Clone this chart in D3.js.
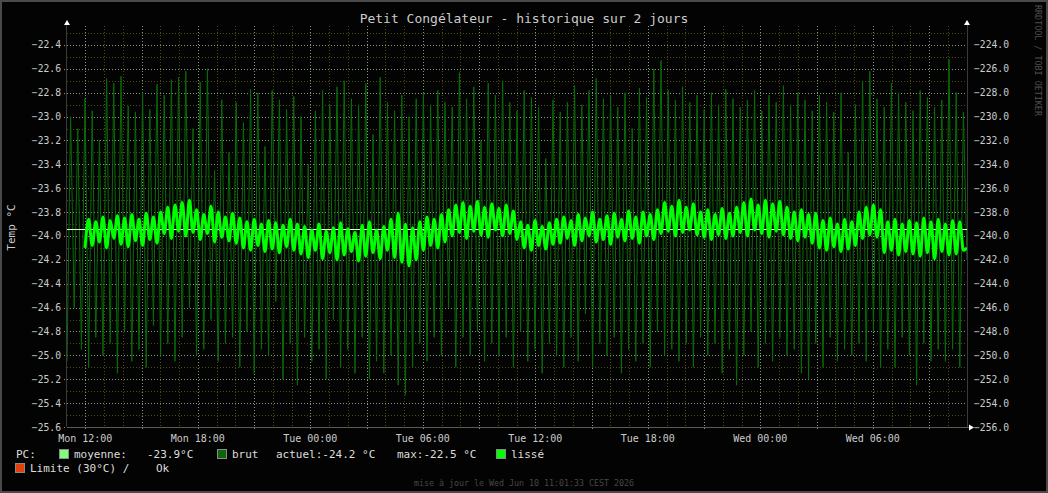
<!DOCTYPE html>
<html>
<head>
<meta charset="utf-8">
<script src="https://cdnjs.cloudflare.com/ajax/libs/d3/7.8.5/d3.min.js"></script>
<style>
body { margin: 0; background: #000; }
svg text { font-family: "DejaVu Sans Mono", monospace; white-space: pre; }
</style>
</head>
<body>
<div id="chart"></div>
<script>
//DATA

var title = "Petit Congélateur - historique sur 2 jours";
var footer = "mise à jour le Wed Jun 10 11:01:33 CEST 2026";
var startTime = new Date(Date.UTC(2026, 5, 8, 11, 1, 33));
var endTime = new Date(Date.UTC(2026, 5, 10, 11, 1, 33));

var moyenne = -23.94;

// raw samples (one every ~11.5 min)
var brut = [
    -25.05, -23.00, -24.60, -23.10, -24.95, -22.85, -25.10, -22.95, -24.85, -23.20,
    -25.00, -22.68, -24.90, -22.72, -25.15, -22.66, -24.80, -22.91, -25.05, -22.96,
    -24.95, -22.80, -25.10, -22.94, -24.75, -22.73, -25.00, -22.82, -24.90, -22.69,
    -25.05, -22.67, -24.85, -22.62, -24.60, -23.10, -25.00, -22.71, -24.95, -22.60,
    -24.70, -23.45, -25.05, -22.86, -24.90, -23.30, -24.85, -22.88, -25.10, -23.05,
    -24.80, -22.77, -25.15, -22.80, -24.95, -23.25, -25.00, -22.78, -24.55, -22.86,
    -25.20, -22.94, -24.90, -22.83, -25.25, -23.00, -24.85, -23.40, -25.05, -22.95,
    -24.95, -22.78, -25.20, -22.90, -24.70, -22.75, -25.10, -22.70, -24.95, -22.85,
    -25.15, -22.90, -24.85, -22.72, -25.20, -23.15, -25.05, -22.67, -25.15, -22.88,
    -25.00, -22.95, -25.25, -22.82, -25.33, -23.00, -25.10, -22.85, -24.90, -22.80,
    -25.05, -22.90, -24.85, -22.78, -25.00, -22.88, -24.60, -22.92, -25.10, -22.63,
    -24.85, -22.85, -25.00, -22.75, -24.80, -23.20, -25.05, -22.72, -24.90, -22.82,
    -25.00, -22.70, -24.85, -22.88, -25.10, -22.95, -24.80, -22.78, -25.05, -22.84,
    -24.95, -22.92, -25.15, -23.35, -24.90, -22.86, -25.00, -22.96, -25.10, -22.88,
    -24.85, -22.74, -25.05, -22.90, -24.65, -22.78, -25.10, -22.68, -24.90, -22.85,
    -25.00, -22.82, -24.85, -22.92, -25.15, -22.80, -24.95, -23.10, -25.05, -22.76,
    -24.90, -22.84, -25.10, -22.60, -24.80, -22.53, -25.00, -22.78, -24.95, -22.86,
    -25.05, -22.75, -24.90, -22.88, -25.10, -22.82, -24.85, -22.94, -25.00, -22.80,
    -24.90, -22.90, -25.15, -22.77, -24.95, -22.85, -25.25, -22.92, -25.00, -22.86,
    -24.80, -22.78, -25.10, -22.95, -24.90, -22.82, -25.05, -22.88, -24.85, -22.74,
    -25.00, -22.90, -24.95, -22.80, -25.15, -22.86, -25.20, -22.95, -24.90, -22.82,
    -25.10, -22.88, -24.85, -22.96, -25.05, -22.80, -24.95, -23.30, -25.00, -22.90,
    -24.90, -22.70, -25.05, -22.62, -24.80, -22.85, -25.10, -22.92, -24.95, -22.72,
    -25.10, -22.80, -24.85, -22.88, -25.00, -22.95, -25.25, -22.78, -24.90, -22.84,
    -25.05, -22.92, -24.95, -22.86, -25.05, -22.52, -24.95, -22.80, -25.10, -22.96, -24.20
];

// smoothed series, starts at sample #5
var lisseOffset = 5;
var lisse = [
    -24.10, -23.86, -24.08, -23.88, -24.05, -23.84, -24.10, -23.87, -24.02, -23.83,
    -24.07, -23.85, -24.09, -23.82, -24.04, -23.86, -24.08, -23.81, -24.03, -23.84,
    -24.06, -23.80,
    -23.98, -23.76, -24.02, -23.74, -23.96, -23.72, -24.00, -23.70, -23.97, -23.78,
    -24.03, -23.82, -23.98, -23.75, -24.05, -23.80, -24.01, -23.84, -24.04, -23.81, -24.06, -23.85,
    -24.10, -23.88, -24.12, -23.86, -24.08, -23.90, -24.13, -23.87, -24.11, -23.89, -24.14, -23.91, -24.09, -23.86, -24.12, -23.90,
    -24.15, -23.92, -24.18, -23.95, -24.12, -23.90, -24.19, -23.96, -24.14, -23.93,
    -24.20, -23.89, -24.16, -23.94, -24.13, -23.97, -24.21, -23.91, -24.17, -23.88,
    -24.14, -23.95, -24.19, -23.92, -24.12, -23.86, -24.18,
    -23.81, -24.22, -23.90, -24.25, -23.93, -24.20,
    -23.88, -24.12, -23.84, -24.08, -23.86, -24.10, -23.82, -24.05,
    -23.78, -24.00, -23.74, -23.97, -23.72, -24.02, -23.75, -23.96, -23.71, -23.99,
    -23.76, -24.01, -23.73, -23.95, -23.77, -24.00, -23.74, -23.98, -23.79, -24.03,
    -23.88, -24.10, -23.91, -24.12, -23.87, -24.08, -23.92, -24.11, -23.89, -24.07, -23.86,
    -24.06, -23.84, -24.02, -23.87, -24.08, -23.82, -24.04, -23.85, -24.00, -23.80,
    -24.05, -23.86, -24.03, -23.83, -24.07, -23.81, -24.01, -23.86, -24.04, -23.79,
    -24.02, -23.84, -24.06, -23.80, -24.00, -23.82, -24.03, -23.78,
    -23.98, -23.72, -23.96, -23.75, -24.00, -23.70, -23.97, -23.76, -23.95, -23.73, -23.99,
    -23.80, -24.01, -23.78, -24.03, -23.82, -23.99, -23.77, -24.02, -23.81, -24.00, -23.76,
    -23.97, -23.72, -24.00, -23.69, -23.95, -23.74, -23.98, -23.70, -24.01, -23.73, -23.96, -23.71, -23.99, -23.76,
    -24.02, -23.80, -24.04, -23.78, -24.01, -23.82, -24.06, -23.81,
    -24.10, -23.87, -24.12, -23.85, -24.09, -23.90, -24.13, -23.86, -24.11, -23.88, -24.08,
    -23.80, -24.02, -23.76, -23.99, -23.74, -24.01, -23.78,
    -24.14, -23.88, -24.12, -23.86, -24.16, -23.90, -24.13, -23.87, -24.15, -23.89,
    -24.17, -23.85, -24.14, -23.88, -24.19, -23.86, -24.13, -23.90, -24.16, -23.87,
    -24.15, -23.88, -24.12, -24.10
];

// tick labels
var leftTicks = [-22.4, -22.6, -22.8, -23.0, -23.2, -23.4, -23.6, -23.8, -24.0,
    -24.2, -24.4, -24.6, -24.8, -25.0, -25.2, -25.4, -25.6];
var rightTicks = [-224, -226, -228, -230, -232, -234, -236, -238, -240,
    -242, -244, -246, -248, -250, -252, -254, -256];

// legend
var legendRow1 = [
    { text: "PC:", x: 16 },
    { swatch: "#80ff80", x: 59 },
    { text: "moyenne:", x: 74 },
    { text: "-23.9°C", x: 147 },
    { swatch: "#0b650b", x: 217 },
    { text: "brut", x: 232 },
    { text: "actuel:-24.2 °C", x: 276 },
    { text: "max:-22.5 °C", x: 397 },
    { swatch: "#00ff00", x: 496 },
    { text: "lissé", x: 511 }
];
var legendRow2 = [
    { swatch: "#e0400c", x: 15 },
    { text: "Limite (30°C) /", x: 30 },
    { text: "Ok", x: 156 }
];


//SIZING
var width = 1048;
var height = 493;
var margin = { top: 26, right: 81, bottom: 66, left: 67 };
var plotW = width - margin.left - margin.right;   // 900
var plotH = height - margin.top - margin.bottom;  // 401

var svg = d3.select("#chart").append("svg")
    .attr("width", width)
    .attr("height", height);

// frame
svg.append("rect")
    .attr("x", 1).attr("y", 1)
    .attr("width", width - 2).attr("height", height - 2)
    .attr("fill", "#030303")
    .attr("stroke", "#4a4a4a")
    .attr("stroke-width", 2);

var x = d3.scaleUtc()
    .domain([startTime, endTime])
    .range([margin.left, margin.left + plotW]);

var y = d3.scaleLinear()
    .domain([-25.6, -22.241])
    .range([margin.top + plotH, margin.top]);

var yRight = d3.scaleLinear()
    .domain([-256, -222.41])
    .range([margin.top + plotH, margin.top]);

var step = (endTime - startTime) / (brut.length - 1);
function timeAt(i) {
    return new Date(startTime.getTime() + i * step);
}

var x0 = margin.left, x1 = margin.left + plotW;
var y0 = margin.top, y1 = margin.top + plotH;


//GRID
var minorColor = "#4c4c0c";
var majorColor = "#7f9f7a";

var hMinor = d3.range(-255, -222, 2).map(function (v) { return v / 10; });
svg.append("g").selectAll("line").data(hMinor).enter().append("line")
    .attr("x1", x0).attr("x2", x1)
    .attr("y1", function (d) { return Math.round(y(d)) + 0.5; })
    .attr("y2", function (d) { return Math.round(y(d)) + 0.5; })
    .attr("stroke", minorColor).attr("stroke-dasharray", "1,2");

var vMinor = d3.utcHour.every(1).range(startTime, endTime).filter(function (d) {
    return d.getUTCHours() % 3 !== 0;
});
svg.append("g").selectAll("line").data(vMinor).enter().append("line")
    .attr("y1", y0).attr("y2", y1)
    .attr("x1", function (d) { return Math.round(x(d)) + 0.5; })
    .attr("x2", function (d) { return Math.round(x(d)) + 0.5; })
    .attr("stroke", minorColor).attr("stroke-dasharray", "1,2");

svg.append("g").selectAll("line").data(leftTicks).enter().append("line")
    .attr("x1", x0 - 3).attr("x2", x1 + 3)
    .attr("y1", function (d) { return Math.round(y(d)) + 0.5; })
    .attr("y2", function (d) { return Math.round(y(d)) + 0.5; })
    .attr("stroke", majorColor).attr("stroke-dasharray", "1,2");

var vMajor = d3.utcHour.every(3).range(startTime, endTime);
svg.append("g").selectAll("line").data(vMajor).enter().append("line")
    .attr("y1", y0).attr("y2", y1 + 4)
    .attr("x1", function (d) { return Math.round(x(d)) + 0.5; })
    .attr("x2", function (d) { return Math.round(x(d)) + 0.5; })
    .attr("stroke", majorColor).attr("stroke-dasharray", "1,2");

// axis lines
svg.append("line")
    .attr("x1", x0 - 0.5).attr("x2", x0 - 0.5).attr("y1", y0 - 2).attr("y2", y1)
    .attr("stroke", "#3a3a3a");
svg.append("line")
    .attr("x1", x1 + 0.5).attr("x2", x1 + 0.5).attr("y1", y0 - 2).attr("y2", y1)
    .attr("stroke", "#3a3a3a");
svg.append("line")
    .attr("x1", x0).attr("x2", x1 + 3).attr("y1", y1 + 0.5).attr("y2", y1 + 0.5)
    .attr("stroke", "#5a5a5a");

// small arrows
svg.append("path").attr("d", "M" + x0 + "," + (y0 - 6) + "l-3,5h6z").attr("fill", "#ffffff");
svg.append("path").attr("d", "M" + x1 + "," + (y0 - 6) + "l-3,5h6z").attr("fill", "#ffffff");
svg.append("path").attr("d", "M" + (x1 + 7) + "," + (y1 + 0.5) + "l-5,-3v6z").attr("fill", "#ffffff");


//SERIES
svg.append("clipPath").attr("id", "plotClip")
    .append("rect").attr("x", x0).attr("y", y0).attr("width", plotW).attr("height", plotH + 1);

var plot = svg.append("g").attr("clip-path", "url(#plotClip)");

var brutLine = d3.line()
    .x(function (d, i) { return x(timeAt(i)); })
    .y(function (d) { return y(d); });

plot.append("path")
    .datum(brut)
    .attr("d", brutLine)
    .attr("fill", "none")
    .attr("stroke", "#0a6a0a")
    .attr("stroke-width", 1);

plot.append("line")
    .attr("x1", x0).attr("x2", x1)
    .attr("y1", Math.round(y(moyenne)) + 0.5)
    .attr("y2", Math.round(y(moyenne)) + 0.5)
    .attr("stroke", "#d8ffd8")
    .attr("stroke-width", 1);

var lisseLine = d3.line()
    .x(function (d, i) { return x(timeAt(i + lisseOffset)); })
    .y(function (d) { return y(d); })
    .curve(d3.curveMonotoneX);

plot.append("path")
    .datum(lisse)
    .attr("d", lisseLine)
    .attr("fill", "none")
    .attr("stroke", "#00ff00")
    .attr("stroke-width", 3)
    .attr("stroke-linejoin", "round");


//TEXT
var textColor = "#cccccc";

svg.append("text")
    .attr("x", width / 2).attr("y", 23)
    .attr("text-anchor", "middle")
    .attr("fill", textColor)
    .style("font-size", "13px")
    .text(title);

svg.append("g").selectAll("text").data(leftTicks).enter().append("text")
    .attr("x", 61)
    .attr("y", function (d) { return y(d) + 3.5; })
    .attr("text-anchor", "end")
    .attr("fill", textColor)
    .style("font-size", "9.7px")
    .text(function (d) { return d3.format(".1f")(d); });

svg.append("g").selectAll("text").data(rightTicks).enter().append("text")
    .attr("x", 974)
    .attr("y", function (d) { return yRight(d) + 3.5; })
    .attr("fill", textColor)
    .style("font-size", "9.7px")
    .text(function (d) { return d3.format(".1f")(d); });

var xLabels = d3.utcHour.every(6).range(startTime, endTime);
svg.append("g").selectAll("text").data(xLabels).enter().append("text")
    .attr("x", function (d) { return x(d); })
    .attr("y", 442)
    .attr("text-anchor", "middle")
    .attr("fill", textColor)
    .style("font-size", "10px")
    .text(function (d) { return d3.utcFormat("%a %H:%M")(d); });

svg.append("text")
    .attr("transform", "translate(15," + (y0 + plotH / 2 + 1) + ") rotate(-90)")
    .attr("text-anchor", "middle")
    .attr("fill", textColor)
    .style("font-size", "11px")
    .text("Temp °C");

svg.append("text")
    .attr("transform", "translate(1035,5) rotate(90)")
    .attr("fill", "#505050")
    .style("font-size", "8.4px")
    .text("RRDTOOL / TOBI OETIKER");

svg.append("text")
    .attr("x", width / 2).attr("y", 486)
    .attr("text-anchor", "middle")
    .attr("fill", "#474747")
    .style("font-size", "8.3px")
    .text(footer);


//LEGEND
function drawLegendRow(items, cy) {
    var row = svg.append("g");
    items.forEach(function (d) {
        if (d.swatch) {
            row.append("rect")
                .attr("x", d.x + 0.5).attr("y", cy - 4.5)
                .attr("width", 9).attr("height", 9)
                .attr("fill", d.swatch)
                .attr("stroke", "#8a8a8a")
                .attr("stroke-width", 1);
        } else {
            row.append("text")
                .attr("x", d.x).attr("y", cy + 4)
                .attr("fill", "#dddddd")
                .style("font-size", "11px")
                .text(d.text);
        }
    });
}

drawLegendRow(legendRow1, 454);
drawLegendRow(legendRow2, 468);
</script>
</body>
</html>
